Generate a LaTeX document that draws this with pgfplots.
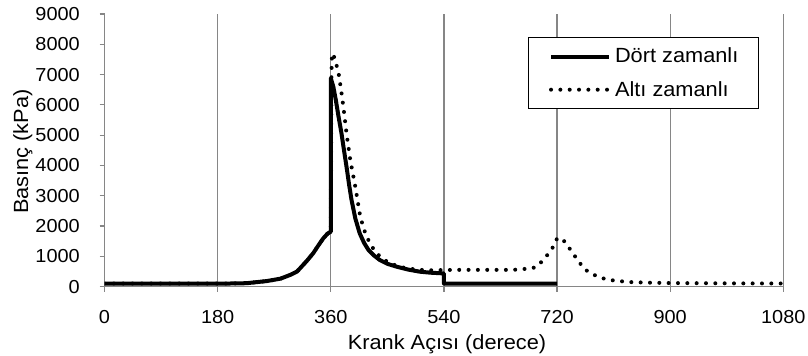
\documentclass[border=0pt]{standalone}
\usepackage{fontspec}
\setmainfont{Liberation Sans}[FakeStretch=1.06]
\usepackage{pgfplots}
\pgfplotsset{compat=1.18}
\definecolor{axgray}{RGB}{134,134,134}
\begin{document}
\begin{tikzpicture}[font=\fontsize{15.4}{18}\selectfont]
\begin{axis}[
  scale only axis,
  width=509.1pt, height=204.4pt,
  xmin=0, xmax=1080, ymin=0, ymax=9000,
  axis x line*=bottom, axis y line*=left,
  axis line style={axgray, line width=0.9pt},
  xtick={0,180,...,1080}, ytick={0,1000,...,9000},
  tick align=outside, major tick length=3.75pt,
  tick style={axgray, line width=0.9pt},
  xmajorgrids, major grid style={axgray, line width=0.9pt},
  /pgf/number format/assume math mode=true,
  /pgf/number format/1000 sep={},
  ticklabel style={font=\fontsize{14.1}{16}\selectfont},
  xticklabel style={anchor=center, yshift=-19pt},
  yticklabel style={anchor=east, inner sep=0pt, xshift=-14.6pt},
  xlabel={Krank Açısı (derece)},
  ylabel={Basınç (kPa)},
  xlabel style={at={(axis description cs:0.5046,-0.2295)}, anchor=base},
  ylabel style={at={(axis description cs:-0.1127,0.4954)}, anchor=base},
  legend cell align=left,
  legend image code/.code={\draw[#1] (0pt,0pt) -- (43.5pt,0pt);},
  legend style={at={(axis description cs:0.624,0.916)}, anchor=north west,
    draw=black, line width=0.8pt, inner xsep=15.3pt, inner ysep=8pt,
    row sep=12.2pt, column sep=3pt, nodes={inner sep=0pt},
    font=\fontsize{15.4}{18}\selectfont},
]
\addplot[black, line width=3pt, line join=round] coordinates {
(0,100) (100,100) (200,100) (226,110) (258,180) (280,260) (295,380) (306,490)
(311,600) (322,850) (332,1100) (340,1350) (348,1590) (355,1750) (360,1810)
(360,6880) (364,6600) (368,6159) (372,5650) (377,5059) (381,4500) (385,3957)
(389,3380) (393,2857) (399,2250) (406,1757) (413,1440) (420,1205) (429,1020)
(438,875) (450,750) (465,654) (483,560) (502,489) (520,455) (534,440)
(540,430) (540,100) (720,100)
};
\addlegendentry{Dört zamanlı}
\addplot[black, line width=3pt, line cap=round, dash pattern=on 0pt off 7pt] coordinates {
(0,100) (100,100) (200,100) (226,110) (258,180) (280,260) (295,380) (306,490)
(311,600) (322,850) (332,1100) (340,1350) (348,1590) (355,1750) (360,1810)
(361,7000) (362,7700) (365,7600) (368,7390) (372,7095) (376,6550) (380,5938)
(385,5059) (391,4178) (399,3296) (406,2417) (411,2000) (417,1645) (425,1330)
(433,1096) (443,910) (454,766) (467,670) (481,601) (497,560) (513,535)
(540,545) (560,550) (600,550) (650,550) (680,600) (688,660)
(699,900) (708,1130) (715,1350) (720,1590) (725,1600) (729,1560) (738,1314)
(746,1073) (755,809) (764,568) (776,413) (789,291) (804,215) (819,182)
(833,149) (847,139) (870,125) (900,115) (950,110) (1000,105) (1080,100)
};
\addlegendentry{Altı zamanlı}
\end{axis}
\pgfresetboundingbox
\path (-78.4pt,-52.1pt) rectangle (527.6pt,214.9pt);
\end{tikzpicture}
\end{document}
